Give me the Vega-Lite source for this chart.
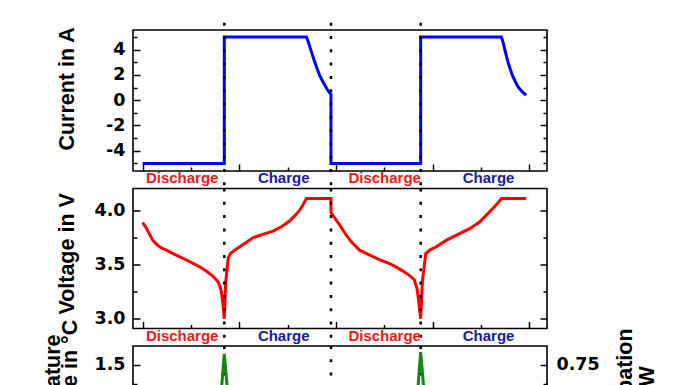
{
  "$schema": "https://vega.github.io/schema/vega-lite/v6.json",
  "padding": {"left": 41, "top": 20, "right": 0, "bottom": -98},
  "bounds": "flush",
  "spacing": 17.5,
  "config": {
    "view": {"stroke": "black", "strokeWidth": 1.6},
    "axis": {"domain": false, "grid": false, "tickColor": "black", "tickWidth": 1.5, "labelFont": "DejaVu Sans", "labelFontWeight": "bold", "labelFontSize": 17.5, "labelColor": "black", "titleFont": "Liberation Sans", "titleFontWeight": "bold", "titleFontSize": 21.5, "titleColor": "black"},
    "text": {"font": "Liberation Sans", "fontWeight": "bold", "fontSize": 15}
  },
  "datasets": {
    "current": [
      {"i": 0, "t": 0, "I": -5}, {"i": 1, "t": 1.69, "I": -5}, {"i": 2, "t": 1.69, "I": 5}, {"i": 3, "t": 3.39, "I": 5},
      {"i": 4, "t": 3.43, "I": 4.58}, {"i": 5, "t": 3.47, "I": 4.1}, {"i": 6, "t": 3.515, "I": 3.56}, {"i": 7, "t": 3.56, "I": 3.04},
      {"i": 8, "t": 3.61, "I": 2.5}, {"i": 9, "t": 3.66, "I": 2.0}, {"i": 10, "t": 3.715, "I": 1.57}, {"i": 11, "t": 3.77, "I": 1.2},
      {"i": 12, "t": 3.815, "I": 0.88}, {"i": 13, "t": 3.86, "I": 0.62}, {"i": 14, "t": 3.898, "I": 0.46}, {"i": 15, "t": 3.898, "I": -5},
      {"i": 16, "t": 5.755, "I": -5}, {"i": 17, "t": 5.755, "I": 5}, {"i": 18, "t": 7.425, "I": 5}, {"i": 19, "t": 7.46, "I": 4.58},
      {"i": 20, "t": 7.49, "I": 4.1}, {"i": 21, "t": 7.525, "I": 3.56}, {"i": 22, "t": 7.56, "I": 3.05}, {"i": 23, "t": 7.605, "I": 2.5},
      {"i": 24, "t": 7.65, "I": 2.0}, {"i": 25, "t": 7.71, "I": 1.5}, {"i": 26, "t": 7.77, "I": 1.07}, {"i": 27, "t": 7.82, "I": 0.82},
      {"i": 28, "t": 7.87, "I": 0.62}, {"i": 29, "t": 7.94, "I": 0.41}
    ],
    "voltage": [
      {"i": 0, "t": 0, "V": 3.887}, {"i": 1, "t": 0.07, "V": 3.84}, {"i": 2, "t": 0.14, "V": 3.78}, {"i": 3, "t": 0.21, "V": 3.724},
      {"i": 4, "t": 0.28, "V": 3.69}, {"i": 5, "t": 0.35, "V": 3.663}, {"i": 6, "t": 0.42, "V": 3.645}, {"i": 7, "t": 0.49, "V": 3.632},
      {"i": 8, "t": 0.63, "V": 3.6}, {"i": 9, "t": 0.77, "V": 3.57}, {"i": 10, "t": 0.98, "V": 3.525}, {"i": 11, "t": 1.18, "V": 3.478},
      {"i": 12, "t": 1.33, "V": 3.435}, {"i": 13, "t": 1.46, "V": 3.39}, {"i": 14, "t": 1.56, "V": 3.34}, {"i": 15, "t": 1.6, "V": 3.3},
      {"i": 16, "t": 1.63, "V": 3.248}, {"i": 17, "t": 1.66, "V": 3.14}, {"i": 18, "t": 1.69, "V": 3.0}, {"i": 19, "t": 1.72, "V": 3.34},
      {"i": 20, "t": 1.77, "V": 3.555}, {"i": 21, "t": 1.815, "V": 3.6}, {"i": 22, "t": 1.9, "V": 3.63}, {"i": 23, "t": 2.01, "V": 3.663},
      {"i": 24, "t": 2.15, "V": 3.705}, {"i": 25, "t": 2.28, "V": 3.746}, {"i": 26, "t": 2.5, "V": 3.78}, {"i": 27, "t": 2.7, "V": 3.807},
      {"i": 28, "t": 2.88, "V": 3.85}, {"i": 29, "t": 3.04, "V": 3.9}, {"i": 30, "t": 3.15, "V": 3.95}, {"i": 31, "t": 3.25, "V": 4.0},
      {"i": 32, "t": 3.32, "V": 4.05}, {"i": 33, "t": 3.39, "V": 4.108}, {"i": 34, "t": 3.898, "V": 4.108}, {"i": 35, "t": 3.898, "V": 3.979},
      {"i": 36, "t": 4.08, "V": 3.863}, {"i": 37, "t": 4.2, "V": 3.78}, {"i": 38, "t": 4.32, "V": 3.709}, {"i": 39, "t": 4.49, "V": 3.632},
      {"i": 40, "t": 4.7, "V": 3.586}, {"i": 41, "t": 4.9, "V": 3.545}, {"i": 42, "t": 5.11, "V": 3.509}, {"i": 43, "t": 5.25, "V": 3.475},
      {"i": 44, "t": 5.39, "V": 3.439}, {"i": 45, "t": 5.52, "V": 3.4}, {"i": 46, "t": 5.62, "V": 3.361}, {"i": 47, "t": 5.68, "V": 3.278},
      {"i": 48, "t": 5.72, "V": 3.14}, {"i": 49, "t": 5.755, "V": 3.0}, {"i": 50, "t": 5.79, "V": 3.34}, {"i": 51, "t": 5.86, "V": 3.6},
      {"i": 52, "t": 5.95, "V": 3.635}, {"i": 53, "t": 6.08, "V": 3.663}, {"i": 54, "t": 6.29, "V": 3.724}, {"i": 55, "t": 6.56, "V": 3.785},
      {"i": 56, "t": 6.77, "V": 3.83}, {"i": 57, "t": 6.98, "V": 3.893}, {"i": 58, "t": 7.18, "V": 3.985}, {"i": 59, "t": 7.3, "V": 4.04},
      {"i": 60, "t": 7.43, "V": 4.108}, {"i": 61, "t": 7.94, "V": 4.108}
    ],
    "power": [
      {"i": 0, "t": 0, "P": 0.2}, {"i": 1, "t": 1.0, "P": 0.24}, {"i": 2, "t": 1.45, "P": 0.3}, {"i": 3, "t": 1.6, "P": 0.47},
      {"i": 4, "t": 1.69, "P": 0.82}, {"i": 5, "t": 1.8, "P": 0.43}, {"i": 6, "t": 1.92, "P": 0.25}, {"i": 7, "t": 3.0, "P": 0.22},
      {"i": 8, "t": 3.898, "P": 0.2}, {"i": 9, "t": 4.0, "P": 0.2}, {"i": 10, "t": 5.0, "P": 0.25}, {"i": 11, "t": 5.5, "P": 0.3},
      {"i": 12, "t": 5.665, "P": 0.47}, {"i": 13, "t": 5.755, "P": 0.83}, {"i": 14, "t": 5.865, "P": 0.43}, {"i": 15, "t": 5.98, "P": 0.25},
      {"i": 16, "t": 7.0, "P": 0.22}, {"i": 17, "t": 7.94, "P": 0.2}
    ],
    "dividers": [{"t": 1.69}, {"t": 3.898}, {"t": 5.755}],
    "phases": [
      {"label": "Discharge", "t": 0.818}, {"label": "Charge", "t": 2.92},
      {"label": "Discharge", "t": 5.01}, {"label": "Charge", "t": 7.16}
    ]
  },
  "vconcat": [
    {
      "width": 414, "height": 141,
      "resolve": {"axis": {"y": "independent"}},
      "layer": [
        {
          "data": {"name": "current"},
          "mark": {"type": "line", "color": "#0000ff", "strokeWidth": 3},
          "encoding": {
            "x": {"field": "t", "type": "quantitative", "scale": {"domain": [-0.2, 8.37], "nice": false, "zero": false},
              "axis": {"orient": "bottom", "values": [0, 1, 2, 3, 4, 5, 6, 7, 8], "labels": false, "title": null,
                "tickSize": {"condition": {"test": "datum.value % 2 === 0", "value": -7}, "value": -4}}},
            "y": {"field": "I", "type": "quantitative", "scale": {"domain": [-5.6, 5.55], "nice": false, "zero": false},
              "axis": {"orient": "left", "values": [-5, -4, -3, -2, -1, 0, 1, 2, 3, 4, 5],
                "labelExpr": "datum.value % 2 === 0 ? toString(datum.value) : ''", "labelPadding": 15,
                "tickSize": {"condition": {"test": "datum.value % 2 === 0", "value": -7}, "value": -4},
                "title": "Current in A", "titleX": -60, "titleY": 58.4, "titleAngle": 270, "titleAlign": "center", "titleBaseline": "alphabetic"}},
            "order": {"field": "i", "type": "quantitative"}
          }
        },
        {
          "data": {"name": "dividers"},
          "mark": {"type": "rule", "color": "black", "strokeWidth": 2.5, "strokeDash": [3, 10.3], "clip": false},
          "encoding": {
            "x": {"field": "t", "type": "quantitative", "scale": {"domain": [-0.2, 8.37], "nice": false, "zero": false}},
            "y": {"datum": 6.127, "type": "quantitative", "scale": {"domain": [-5.6, 5.55], "nice": false, "zero": false},
              "axis": {"orient": "right", "values": [-5, -4, -3, -2, -1, 0, 1, 2, 3, 4, 5], "labels": false, "title": null,
                "tickSize": {"condition": {"test": "datum.value % 2 === 0", "value": -7}, "value": -4}}},
            "y2": {"datum": -6.984}
          }
        },
        {
          "data": {"name": "phases"},
          "mark": {"type": "text", "baseline": "middle", "align": "center", "clip": false},
          "encoding": {
            "x": {"field": "t", "type": "quantitative", "scale": {"domain": [-0.2, 8.37], "nice": false, "zero": false}},
            "y": {"datum": -6.14, "type": "quantitative", "scale": {"domain": [-5.6, 5.55], "nice": false, "zero": false}, "axis": null},
            "text": {"field": "label"},
            "color": {"field": "label", "type": "nominal", "scale": {"domain": ["Discharge", "Charge"], "range": ["#f01818", "#1a1a9a"]}, "legend": null}
          }
        }
      ]
    },
    {
      "width": 414, "height": 140,
      "resolve": {"axis": {"y": "independent"}},
      "layer": [
        {
          "data": {"name": "voltage"},
          "mark": {"type": "line", "color": "#ff0000", "strokeWidth": 3},
          "encoding": {
            "x": {"field": "t", "type": "quantitative", "scale": {"domain": [-0.2, 8.37], "nice": false, "zero": false},
              "axis": {"orient": "bottom", "values": [0, 1, 2, 3, 4, 5, 6, 7, 8], "labels": false, "title": null,
                "tickSize": {"condition": {"test": "datum.value % 2 === 0", "value": -7}, "value": -4}}},
            "y": {"field": "V", "type": "quantitative", "scale": {"domain": [2.91, 4.2], "nice": false, "zero": false},
              "axis": {"orient": "left", "values": [3, 3.25, 3.5, 3.75, 4],
                "labelExpr": "datum.value % 0.5 === 0 ? format(datum.value, '.1f') : ''", "labelPadding": 15,
                "tickSize": {"condition": {"test": "datum.value % 0.5 === 0", "value": -7}, "value": -4},
                "title": "Voltage in V", "titleX": -60, "titleY": 64.9, "titleAngle": 270, "titleAlign": "center", "titleBaseline": "alphabetic"}},
            "order": {"field": "i", "type": "quantitative"}
          }
        },
        {
          "data": {"name": "dividers"},
          "mark": {"type": "rule", "color": "black", "strokeWidth": 2.5, "strokeDash": [3, 10.3], "clip": false},
          "encoding": {
            "x": {"field": "t", "type": "quantitative", "scale": {"domain": [-0.2, 8.37], "nice": false, "zero": false}},
            "y": {"datum": 4.2, "type": "quantitative", "scale": {"domain": [2.91, 4.2], "nice": false, "zero": false},
              "axis": {"orient": "right", "values": [3, 3.25, 3.5, 3.75, 4], "labels": false, "title": null,
                "tickSize": {"condition": {"test": "datum.value % 0.5 === 0", "value": -7}, "value": -4}}},
            "y2": {"datum": 2.749}
          }
        },
        {
          "data": {"name": "phases"},
          "mark": {"type": "text", "baseline": "middle", "align": "center", "clip": false},
          "encoding": {
            "x": {"field": "t", "type": "quantitative", "scale": {"domain": [-0.2, 8.37], "nice": false, "zero": false}},
            "y": {"datum": 2.844, "type": "quantitative", "scale": {"domain": [2.91, 4.2], "nice": false, "zero": false}, "axis": null},
            "text": {"field": "label"},
            "color": {"field": "label", "type": "nominal", "scale": {"domain": ["Discharge", "Charge"], "range": ["#f01818", "#1a1a9a"]}, "legend": null}
          }
        }
      ]
    },
    {
      "width": 414, "height": 142.8,
      "resolve": {"scale": {"y": "independent"}},
      "layer": [
        {
          "data": {"name": "dividers"},
          "mark": {"type": "rule", "color": "black", "strokeWidth": 2.5, "strokeDash": [3, 10.3], "clip": false},
          "encoding": {
            "x": {"field": "t", "type": "quantitative", "scale": {"domain": [-0.2, 8.37], "nice": false, "zero": false},
              "axis": {"orient": "bottom", "values": [0, 1, 2, 3, 4, 5, 6, 7, 8], "labels": false, "title": null,
                "tickSize": {"condition": {"test": "datum.value % 2 === 0", "value": -7}, "value": -4}}},
            "y": {"datum": 1.74, "type": "quantitative", "scale": {"domain": [-0.1, 1.74], "nice": false, "zero": false},
              "axis": {"orient": "left", "values": [0, 0.25, 0.5, 0.75, 1, 1.25, 1.5],
                "labelExpr": "datum.value % 0.5 === 0 ? format(datum.value, '.1f') : ''", "labelPadding": 15,
                "tickSize": {"condition": {"test": "datum.value % 0.5 === 0", "value": -7}, "value": -4},
                "title": ["Temperature", "difference in °C"], "titleX": -73.3, "titleY": 52.3, "titleAngle": 270, "titleAlign": "center", "titleBaseline": "alphabetic", "titleLineHeight": 17}},
            "y2": {"datum": -0.1}
          }
        },
        {
          "data": {"name": "power"},
          "mark": {"type": "line", "color": "#118811", "strokeWidth": 3},
          "encoding": {
            "x": {"field": "t", "type": "quantitative", "scale": {"domain": [-0.2, 8.37], "nice": false, "zero": false}},
            "y": {"field": "P", "type": "quantitative", "scale": {"domain": [-0.05, 0.87], "nice": false, "zero": false},
              "axis": {"orient": "right", "values": [0, 0.125, 0.25, 0.375, 0.5, 0.625, 0.75],
                "labelExpr": "datum.value % 0.25 === 0 ? format(datum.value, '.2f') : ''", "labelPadding": 16,
                "tickSize": {"condition": {"test": "datum.value % 0.25 === 0", "value": -7}, "value": -4},
                "title": ["Heat dissipation", "rate in W"], "titleX": 84, "titleY": 65, "titleAngle": 270, "titleAlign": "center", "titleBaseline": "alphabetic", "titleLineHeight": 22}},
            "order": {"field": "i", "type": "quantitative"}
          }
        }
      ]
    }
  ]
}
